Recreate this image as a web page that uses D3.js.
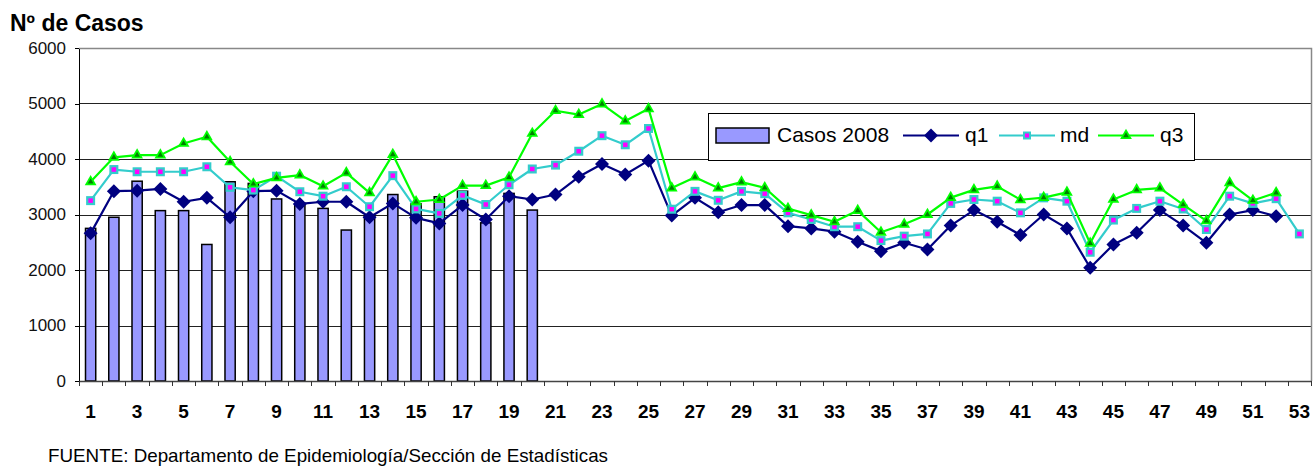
<!DOCTYPE html>
<html lang="es">
<head>
    <meta charset="UTF-8">
    <title>Nº de Casos</title>
    <script src="https://d3js.org/d3.v7.min.js"></script>
    <style>
        body { margin: 0; background: #fff; }
        svg { display: block; font-family: "Liberation Sans", Arial, sans-serif; }
        .grid line { stroke: #222; stroke-width: 1px; shape-rendering: crispEdges; }
        .axis-y path, .axis-y line { stroke: #000; shape-rendering: crispEdges; }
        .axis-y text { font-size: 17px; fill: #111; }
        .axis-x text { font-size: 19px; font-weight: bold; fill: #000; }
        .bar { fill: #9999ff; stroke: #000; stroke-width: 1.5px; }
    </style>
</head>
<body>
    <svg width="1315" height="466"></svg>

    <script>
        // semanas 1..53
        const weeks = d3.range(1, 54);
        const yTicks = [0, 1000, 2000, 3000, 4000, 5000, 6000];

        // Casos 2008 (semanas 1-20)
        const casos2008 = [2750, 2950, 3600, 3070, 3070, 2460, 3590, 3560, 3280, 3200,
                           3110, 2720, 2980, 3360, 3190, 3320, 3420, 2850, 3380, 3080];

        // cuartil 1
        const q1 = [2660, 3420, 3430, 3460, 3230, 3300, 2950, 3420, 3430, 3190,
                    3230, 3230, 2950, 3200, 2940, 2840, 3170, 2910, 3330, 3270,
                    3360, 3680, 3910, 3720, 3970, 2980, 3300, 3040, 3170, 3170,
                    2790, 2750, 2690, 2510, 2340, 2490, 2370, 2800, 3080, 2870,
                    2630, 3000, 2750, 2040, 2460, 2670, 3080, 2800, 2490, 3000,
                    3080, 2970, null];

        // mediana
        const md = [3250, 3810, 3770, 3770, 3770, 3860, 3490, 3440, 3690, 3410,
                    3330, 3500, 3140, 3700, 3100, 3020, 3345, 3180, 3536, 3820,
                    3890, 4140, 4420, 4256, 4550, 3095, 3417, 3256, 3417, 3375,
                    3030, 2910, 2780, 2780, 2530, 2610, 2650, 3200, 3270, 3240,
                    3030, 3300, 3240, 2320, 2900, 3110, 3240, 3100, 2730, 3330,
                    3200, 3285, 2650];

        // cuartil 3
        const q3 = [3590, 4030, 4070, 4070, 4280, 4400, 3950, 3550, 3660, 3710,
                    3510, 3750, 3390, 4080, 3230, 3270, 3520, 3520, 3670, 4460,
                    4870, 4800, 4990, 4685, 4905, 3476, 3673, 3476, 3583, 3482,
                    3107, 2988, 2869, 3070, 2680, 2823, 3000, 3304, 3443, 3506,
                    3266, 3304, 3399, 2481, 3272, 3443, 3475, 3177, 2886, 3570,
                    3253, 3392, null];

        const svg = d3.select('svg');
        svg.append('rect').attr('width', 1315).attr('height', 466).attr('fill', '#fff');

        const plotL = 79, plotR = 1311, plotT = 48, plotB = 381;

        const x = d3.scaleBand().domain(weeks).range([plotL, plotR]);
        const y = d3.scaleLinear().domain([0, 6000]).range([plotB, plotT]);
        const cx = w => x(w) + x.bandwidth() / 2;

        // gridlines
        svg.append('g').attr('class', 'grid')
            .selectAll('line')
            .data(yTicks.filter(t => t > 0 && t < 6000))
            .enter().append('line')
            .attr('x1', plotL).attr('x2', plotR)
            .attr('y1', d => Math.round(y(d)) + 0.5)
            .attr('y2', d => Math.round(y(d)) + 0.5);

        // plot border (top / right)
        svg.append('path')
            .attr('d', `M${plotL},${plotT + 0.5}H${plotR + 0.5}V${plotB}`)
            .attr('fill', 'none')
            .attr('stroke', '#888')
            .attr('stroke-width', 1.5);

        // bars
        const bw = x.bandwidth() * 0.44;
        svg.append('g')
            .selectAll('.bar')
            .data(casos2008)
            .enter().append('rect')
            .attr('class', 'bar')
            .attr('x', (d, i) => cx(i + 1) - bw / 2)
            .attr('y', d => y(d))
            .attr('width', bw)
            .attr('height', d => plotB - y(d));

        // y axis
        svg.append('g').attr('class', 'axis-y')
            .attr('transform', `translate(${plotL},0)`)
            .call(d3.axisLeft(y).tickValues(yTicks).tickFormat(d3.format('d'))
                .tickSize(4).tickPadding(9).tickSizeOuter(0))
            .call(g => g.select('.domain').attr('stroke-width', 1.5));

        // x axis
        const gx = svg.append('g').attr('class', 'axis-x')
            .attr('transform', `translate(0,${plotB})`)
            .call(d3.axisBottom(x).tickSize(0).tickPadding(24).tickSizeOuter(0)
                .tickFormat(d => d % 2 ? d : ''));
        gx.select('.domain').attr('stroke', '#444').attr('stroke-width', 1.5);
        gx.selectAll('.bound')
            .data(weeks.map(w => x(w)).concat([plotR]))
            .enter().append('line')
            .attr('x1', d => Math.round(d) + 0.5).attr('x2', d => Math.round(d) + 0.5)
            .attr('y1', 0).attr('y2', 5)
            .attr('stroke', '#333')
            .attr('shape-rendering', 'crispEdges');

        // marker shapes
        const diamond = r => `M0,${-r}L${r},0L0,${r}L${-r},0Z`;
        const square = s => `M${-s / 2},${-s / 2}h${s}v${s}h${-s}Z`;
        const triBig = d3.symbol(d3.symbolTriangle, 60)();
        const triSmall = d3.symbol(d3.symbolTriangle, 14)();

        function drawMarker(g, type, small) {
            if (type === 'q1') {
                g.append('path').attr('d', diamond(7)).attr('fill', '#000080');
            } else if (type === 'md') {
                g.append('path').attr('d', square(small ? 8 : 9)).attr('fill', '#33cccc');
                g.append('path').attr('d', square(small ? 4 : 4.5)).attr('fill', '#ff00ff');
            } else {
                g.append('path').attr('d', triBig).attr('fill', '#00ff00');
                g.append('path').attr('d', triSmall).attr('fill', '#008000');
            }
        }

        const seriesList = [
            { key: 'q1', values: q1, color: '#000080' },
            { key: 'md', values: md, color: '#33cccc' },
            { key: 'q3', values: q3, color: '#00ff00' }
        ];

        const line = d3.line()
            .defined(d => d != null)
            .x((d, i) => cx(i + 1))
            .y(d => y(d));

        seriesList.forEach(s => {
            svg.append('path')
                .datum(s.values)
                .attr('d', line)
                .attr('fill', 'none')
                .attr('stroke', s.color)
                .attr('stroke-width', 2.2)
                .attr('stroke-linejoin', 'round');

            svg.append('g')
                .selectAll('g')
                .data(s.values.map((v, i) => ({ v, w: i + 1 })).filter(d => d.v != null))
                .enter().append('g')
                .attr('transform', d => `translate(${cx(d.w)},${y(d.v)})`)
                .each(function () { drawMarker(d3.select(this), s.key, false); });
        });

        // legend
        const lg = svg.append('g').attr('transform', 'translate(708,113)');
        lg.append('rect')
            .attr('x', 0.5).attr('y', 0.5)
            .attr('width', 486).attr('height', 47)
            .attr('fill', '#fff').attr('stroke', '#000');
        lg.append('rect')
            .attr('x', 8).attr('y', 15)
            .attr('width', 53).attr('height', 15)
            .attr('fill', '#9999ff').attr('stroke', '#000').attr('stroke-width', 1.5);

        const legendItems = [
            { key: 'casos', label: 'Casos 2008', tx: 69 },
            { key: 'q1', label: 'q1', x0: 195, color: '#000080', tx: 257 },
            { key: 'md', label: 'md', x0: 291, color: '#33cccc', tx: 352 },
            { key: 'q3', label: 'q3', x0: 390, color: '#00ff00', tx: 452 }
        ];
        legendItems.forEach(it => {
            if (it.key !== 'casos') {
                lg.append('line')
                    .attr('x1', it.x0).attr('x2', it.x0 + 56)
                    .attr('y1', 22.5).attr('y2', 22.5)
                    .attr('stroke', it.color).attr('stroke-width', 2.2);
                const m = lg.append('g').attr('transform', `translate(${it.x0 + 28},22.5)`);
                drawMarker(m, it.key, true);
            }
            lg.append('text')
                .attr('x', it.tx).attr('y', 29)
                .attr('font-size', 21)
                .attr('fill', '#000')
                .text(it.label);
        });

        // title
        svg.append('text')
            .attr('x', 10).attr('y', 31)
            .attr('font-size', 23)
            .attr('font-weight', 'bold')
            .text('Nº de Casos');

        // source note
        svg.append('text')
            .attr('x', 48).attr('y', 462)
            .attr('font-size', 19)
            .attr('font-family', '"Liberation Sans Narrow", "Arial Narrow", "Liberation Sans", sans-serif')
            .attr('textLength', 560)
            .attr('lengthAdjust', 'spacingAndGlyphs')
            .text('FUENTE: Departamento de Epidemiología/Sección de Estadísticas');
    </script>
</body>
</html>
